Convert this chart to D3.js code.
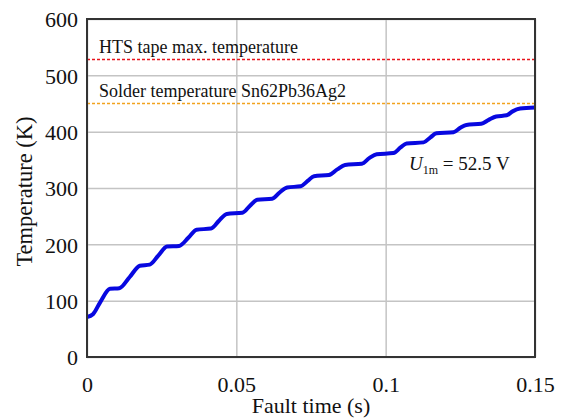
<!DOCTYPE html>
<html>
<head>
<meta charset="utf-8">
<script src="https://cdn.jsdelivr.net/npm/d3@7/dist/d3.min.js"></script>
<style>
  html, body { margin: 0; padding: 0; background: #fff; }
  svg { display: block; }
  text { font-family: "Liberation Serif", "Times New Roman", serif; fill: #111; }
</style>
</head>
<body>
<svg id="chart" width="563" height="419"></svg>
<script>
// Winding temperature during the fault (time in s, temperature in K)
const faultTime = [0, 0.002, 0.0045, 0.0077, 0.0108, 0.0143, 0.0177, 0.021, 0.024, 0.0268,
  0.0308, 0.034, 0.0367, 0.0415, 0.0442, 0.0468, 0.052, 0.0545, 0.057, 0.062,
  0.0645, 0.067, 0.0715, 0.074, 0.076, 0.081, 0.0838, 0.0864, 0.092, 0.0945,
  0.097, 0.1026, 0.105, 0.107, 0.1127, 0.115, 0.117, 0.1227, 0.125, 0.127,
  0.132, 0.1345, 0.137, 0.1405, 0.1425, 0.145, 0.15];
const temperature = [71, 76, 98, 121, 122, 142, 162, 164, 181, 196,
  197, 212, 226, 228, 242, 254, 256, 268, 279, 281,
  292, 301, 303, 313, 321, 323, 333, 341, 343, 353,
  360, 362, 372, 379, 381, 390, 397, 399, 407, 412,
  414, 421, 427, 429, 436, 441, 443];

// Temperature limits
const limitValues = [528, 450];
const limitLabels = ["HTS tape max. temperature", "Solder temperature Sn62Pb36Ag2"];
const limitColors = ["#e8141c", "#f2a21e"];

const xTicks = [0, 0.05, 0.1, 0.15];
const xTickLabels = ["0", "0.05", "0.1", "0.15"];
const yTicks = [0, 100, 200, 300, 400, 500, 600];

const svg = d3.select("#chart");
const m = { left: 87, right: 535, top: 19, bottom: 357 };

const x = d3.scaleLinear().domain([0, 0.15]).range([m.left, m.right]);
const y = d3.scaleLinear().domain([0, 600]).range([m.bottom, m.top]);

// grid
svg.append("g")
  .attr("transform", `translate(0,${m.bottom})`)
  .call(d3.axisBottom(x).tickValues(xTicks).tickSize(-(m.bottom - m.top)).tickFormat(""))
  .call(g => g.select(".domain").remove())
  .call(g => g.selectAll("line").attr("stroke", "#c4c4c4").attr("stroke-width", 1.5));
svg.append("g")
  .attr("transform", `translate(${m.left},0)`)
  .call(d3.axisLeft(y).tickValues(yTicks).tickSize(-(m.right - m.left)).tickFormat(""))
  .call(g => g.select(".domain").remove())
  .call(g => g.selectAll("line").attr("stroke", "#c4c4c4").attr("stroke-width", 1.5));

// tick labels
const xAxis = svg.append("g")
  .attr("transform", `translate(0,${m.bottom})`)
  .call(d3.axisBottom(x).tickValues(xTicks).tickSize(0).tickPadding(19)
    .tickFormat((d, i) => xTickLabels[i]));
xAxis.select(".domain").remove();
xAxis.selectAll("text").attr("font-size", 22).attr("font-family", "Liberation Serif").attr("fill", "#111");

const yAxis = svg.append("g")
  .attr("transform", `translate(${m.left},0)`)
  .call(d3.axisLeft(y).tickValues(yTicks).tickSize(0).tickPadding(9));
yAxis.select(".domain").remove();
yAxis.selectAll("text").attr("font-size", 22).attr("dy", "0.35em")
  .attr("font-family", "Liberation Serif").attr("fill", "#111");

// limit lines and labels
limitValues.forEach((v, i) => {
  svg.append("line")
    .attr("x1", x(0)).attr("x2", x(0.15))
    .attr("y1", y(v)).attr("y2", y(v))
    .attr("stroke", limitColors[i]).attr("stroke-width", 1.5)
    .attr("stroke-dasharray", "3,2");
  svg.append("text")
    .attr("x", x(0) + 12).attr("y", y(v) - 7)
    .attr("font-size", 18)
    .text(limitLabels[i]);
});

// temperature curve
const pts = faultTime.map((t, i) => [t, temperature[i]]);
svg.append("path")
  .datum(pts)
  .attr("fill", "none")
  .attr("stroke", "#0808e0")
  .attr("stroke-width", 4)
  .attr("stroke-linejoin", "round")
  .attr("d", d3.line().x(d => x(d[0])).y(d => y(d[1])).curve(d3.curveMonotoneX));

// plot frame
svg.append("rect")
  .attr("x", m.left).attr("y", m.top)
  .attr("width", m.right - m.left).attr("height", m.bottom - m.top)
  .attr("fill", "none").attr("stroke", "#333").attr("stroke-width", 2);

// voltage annotation
const ann = svg.append("text").attr("x", 409).attr("y", 170).attr("font-size", 19);
ann.append("tspan").attr("font-style", "italic").text("U");
ann.append("tspan").attr("font-size", 12).attr("dy", 4).text("1m");
ann.append("tspan").attr("dy", -4).text(" = 52.5 V");

// axis titles
svg.append("text")
  .attr("x", (m.left + m.right) / 2).attr("y", 413)
  .attr("text-anchor", "middle").attr("font-size", 22)
  .text("Fault time (s)");
svg.append("text")
  .attr("transform", `translate(32,${191.5}) rotate(-90)`)
  .attr("text-anchor", "middle").attr("font-size", 22.5)
  .text("Temperature (K)");
</script>
</body>
</html>
